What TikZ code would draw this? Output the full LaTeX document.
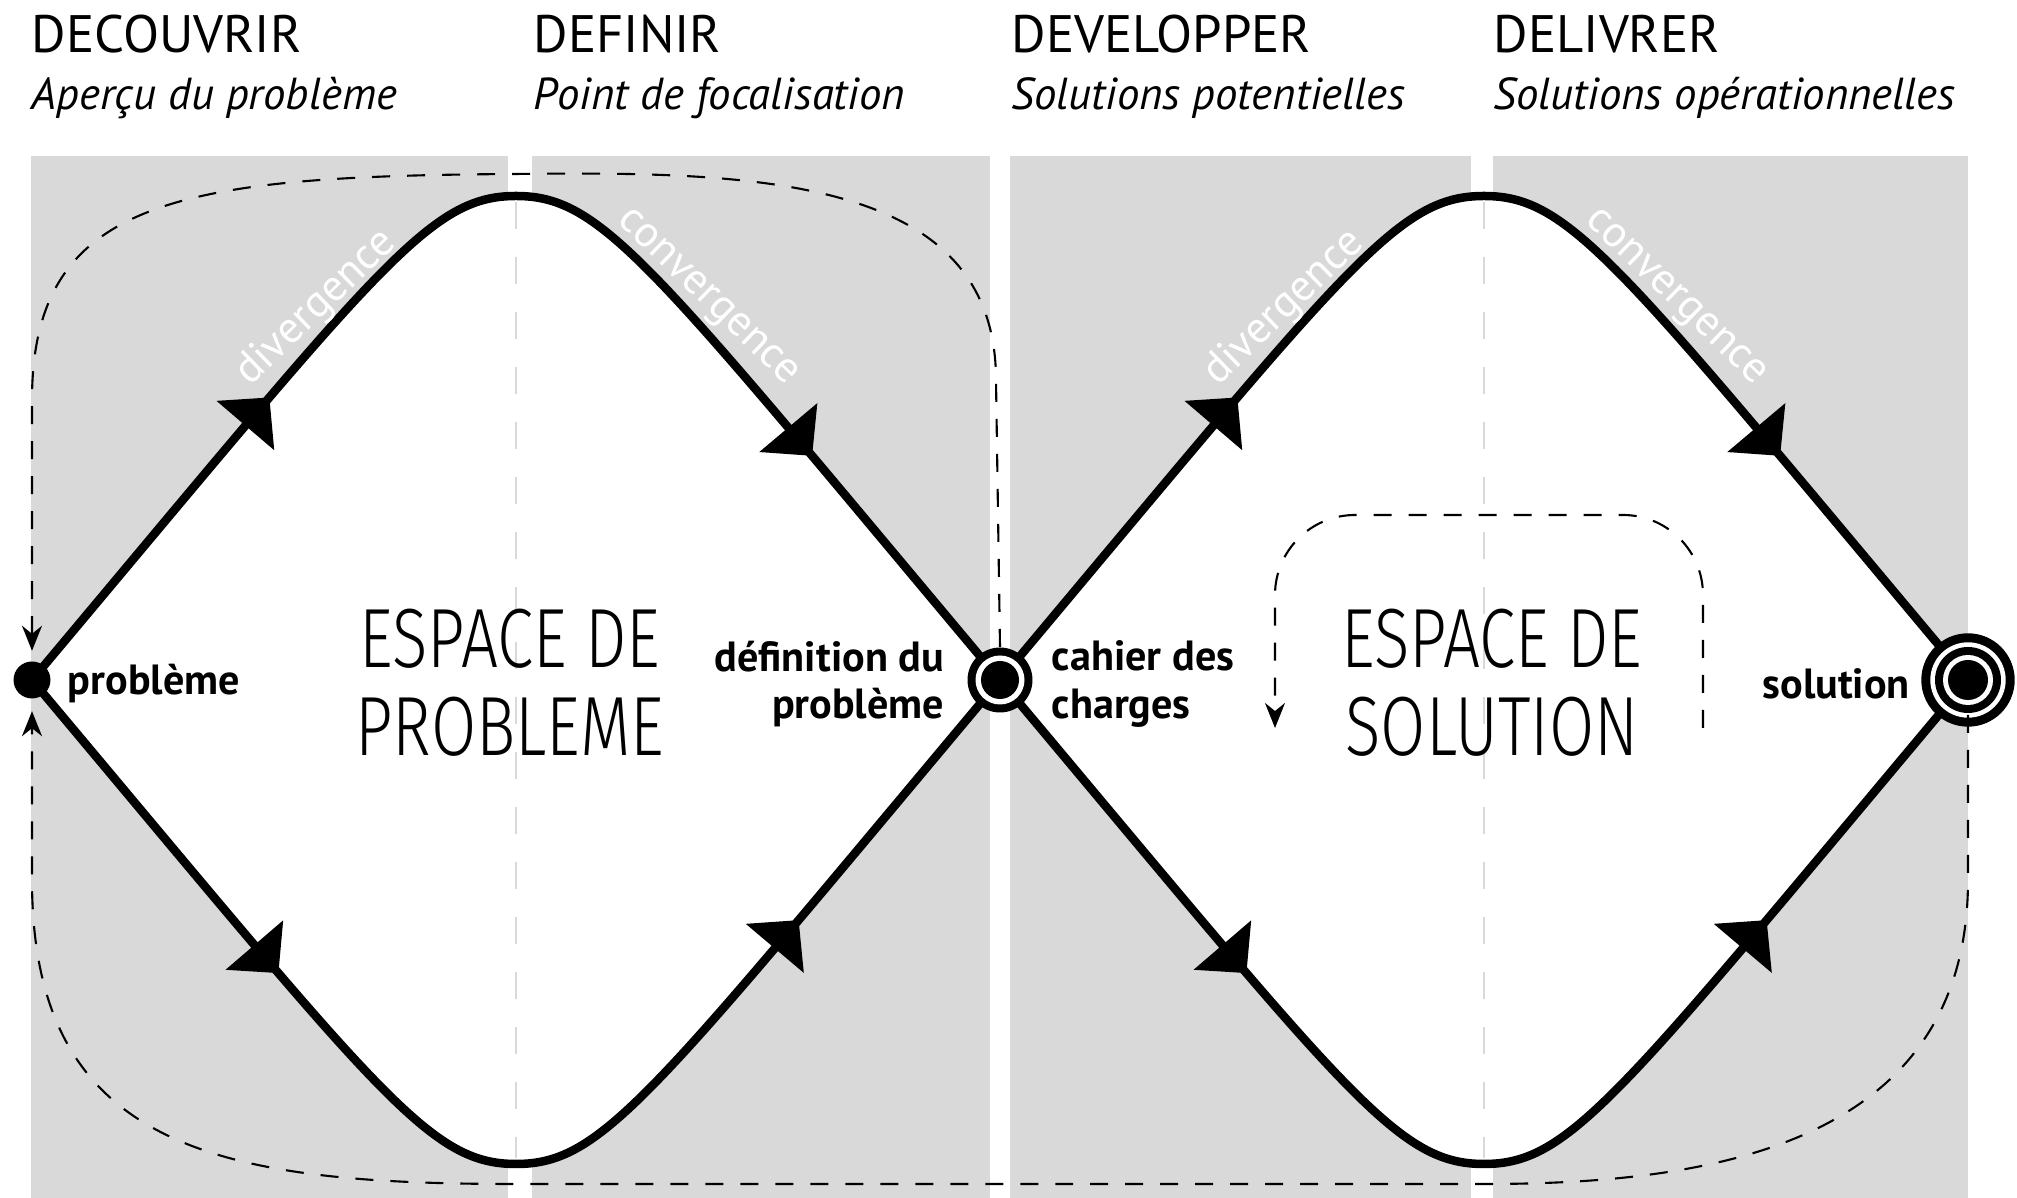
\documentclass[tikz,border=0pt]{standalone}
\usepackage{fontspec}
\setmainfont{PT Sans}
\newfontfamily\thinfont{Fira Sans Light}[FakeStretch=0.78]
\usetikzlibrary{arrows.meta}
\usetikzlibrary{decorations.markings}
\usetikzlibrary{positioning}

\begin{document}
\begin{tikzpicture}[
  panel/.style={fill=black!15},
  spot/.style={circle, inner sep=0pt},
  path line/.style={line width=0.085cm, line join=round, fill=white},
  rise/.style={out distance=5.43cm, in distance=0.87cm},
  fall/.style={out distance=0.87cm, in distance=5.43cm},
  tips/.style 2 args={postaction={decorate}, decoration={markings,
      mark=at position #1 with {\arrow{Triangle[length=0.37cm,width=0.74cm]}},
      mark=at position #2 with {\arrow{Triangle[length=0.37cm,width=0.74cm]}}}},
  axis line/.style={black!15, line width=0.8pt, dash pattern=on 0.27cm off 0.28cm,
      shorten <=0.06cm, shorten >=0.06cm},
  loop line/.style={line width=0.6pt, dash pattern=on 0.18cm off 0.17cm,
      -{Stealth[length=0.25cm,width=0.2cm,inset=0.08cm]}},
  phasetitle/.style={anchor=base west, inner sep=0pt, font=\fontsize{15}{18}\selectfont},
  phasesub/.style={anchor=base west, inner sep=0pt, font=\fontsize{12.75}{15}\selectfont\itshape},
  pointlabel/.style={inner sep=0pt, yshift=-0.04cm, font=\fontsize{12}{13.6}\selectfont\bfseries},
  spacetext/.style={align=center, inner sep=0pt, font=\fontsize{23.9}{25}\thinfont},
  trend/.style={text=white, inner sep=0pt, font=\fontsize{12.5}{14}\selectfont},
]
\useasboundingbox (0,0) rectangle (20.17,11.98);

\fill[panel] (0.31,0) rectangle (5.08,10.42);
\fill[panel] (5.32,0) rectangle (9.90,10.42);
\fill[panel] (10.10,0) rectangle (14.71,10.42);
\fill[panel] (14.93,0) rectangle (19.68,10.42);

\node[spot, minimum size=0.37cm] (Probleme) at (0.32,5.18) {};
\node[spot, minimum size=0.65cm] (Definition) at (10.00,5.18) {};
\node[spot, minimum size=0.934cm] (Solution) at (19.68,5.18) {};
\coordinate (TopA) at (5.16,10.02);
\coordinate (BotA) at (5.16,0.34);
\coordinate (TopB) at (14.84,10.02);
\coordinate (BotB) at (14.84,0.34);

\draw[path line, tips={0.265}{0.79}] (Probleme.center) to[rise, out=50, in=180] (TopA)
  to[fall, out=0, in=130] (Definition.center);
\draw[path line, tips={0.275}{0.775}] (Probleme.center) to[rise, out=-50, in=180] (BotA)
  to[fall, out=0, in=-130] (Definition.center);
\draw[path line, tips={0.265}{0.79}] (Definition.center) to[rise, out=50, in=180] (TopB)
  to[fall, out=0, in=130] (Solution.center);
\draw[path line, tips={0.275}{0.775}] (Definition.center) to[rise, out=-50, in=180] (BotB)
  to[fall, out=0, in=-130] (Solution.center);

\draw[axis line] (TopA) -- (BotA);
\draw[axis line] (TopB) -- (BotB);

\fill (Probleme) circle (0.185);
\foreach \r/\c in {0.325/black, 0.245/white, 0.19/black}
  \fill[\c] (Definition) circle (\r);
\foreach \r/\c in {0.467/black, 0.377/white, 0.33/black, 0.25/white, 0.20/black}
  \fill[\c] (Solution) circle (\r);

\draw[loop line, shorten >=0.1cm] (Definition.north) -- (9.96,8.18)
  .. controls (9.96,10.2) and (7.6,10.27) .. (5.16,10.24)
  .. controls (1.8,10.22) and (0.32,10.0) .. (0.32,7.98) -- (Probleme.north);
\draw[loop line, shorten >=0.12cm] (Solution.center) -- (19.68,3.18)
  .. controls (19.68,0.48) and (17.0,0.14) .. (14.84,0.14) -- (5.16,0.14)
  .. controls (2.2,0.14) and (0.32,0.48) .. (0.32,3.18) -- (Probleme.south);
\coordinate (LoopStart) at (17.03,4.70);
\coordinate (LoopEnd) at (12.75,4.70);
\draw[loop line, rounded corners=0.8cm] (LoopStart) -- (17.03,6.83) -- (12.75,6.83) -- (LoopEnd);

\node[phasetitle] (Decouvrir) at (0.31,11.45) {DECOUVRIR};
\node[phasesub] (DecouvrirSub) at (0.31,10.88) {Aperçu du problème};
\node[phasetitle] (Definir) at (5.33,11.45) {DEFINIR};
\node[phasesub] (DefinirSub) at (5.33,10.88) {Point de focalisation};
\node[phasetitle] (Developper) at (10.11,11.45) {DEVELOPPER};
\node[phasesub] (DevelopperSub) at (10.11,10.88) {Solutions potentielles};
\node[phasetitle] (Delivrer) at (14.93,11.45) {DELIVRER};
\node[phasesub] (DelivrerSub) at (14.93,10.88) {Solutions opérationnelles};

\node[pointlabel, right=0.16cm of Probleme] (ProblemeText) {problème};
\node[pointlabel, align=right, left=0.22cm of Definition] (DefinitionText) {définition du\\problème};
\node[pointlabel, align=left, right=0.18cm of Definition] (CahierText) {cahier des\\charges};
\node[pointlabel, left=0.10cm of Solution] (SolutionText) {solution};

\node[spacetext] (EspaceA) at (5.10,5.15) {ESPACE DE\\PROBLEME};
\node[spacetext] (EspaceB) at (14.92,5.15) {ESPACE DE\\SOLUTION};

\node[trend, rotate=44] at ([shift={(-2.0,-1.12)}]TopA) {divergence};
\node[trend, rotate=-44] at ([shift={(1.9,-1.03)}]TopA) {convergence};
\node[trend, rotate=44] at ([shift={(-2.0,-1.12)}]TopB) {divergence};
\node[trend, rotate=-44] at ([shift={(1.9,-1.03)}]TopB) {convergence};
\end{tikzpicture}
\end{document}
